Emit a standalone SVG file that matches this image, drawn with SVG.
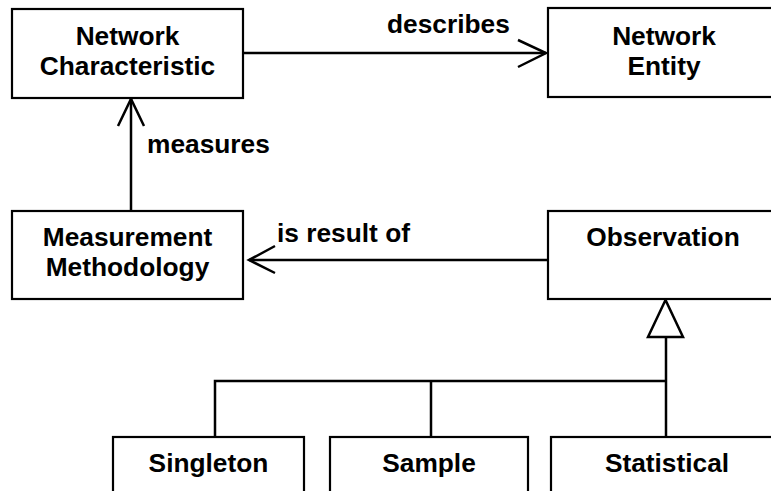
<svg xmlns="http://www.w3.org/2000/svg" width="771" height="491" viewBox="0 0 771 491">
<style>
.box{fill:#fff;stroke:#000;stroke-width:2.2}
.t{font-family:"Liberation Sans",Arial,sans-serif;font-weight:bold;font-size:26.3px;fill:#000;text-anchor:middle}
.l{font-family:"Liberation Sans",Arial,sans-serif;font-weight:bold;font-size:26.3px;fill:#000}
.c{fill:none;stroke:#000;stroke-width:2.5}
</style>
<rect width="771" height="491" fill="#fff"/>
<g id="connectors">
<line class="c" x1="243" y1="53" x2="546" y2="53"/>
<polyline class="c" points="518,40 546,53 518,67"/>
<text class="l" x="387" y="33">describes</text>
<line class="c" x1="131" y1="211" x2="131" y2="99"/>
<polyline class="c" points="118,126 131,99 144,126"/>
<text class="l" x="147" y="153">measures</text>
<line class="c" x1="548" y1="260" x2="249" y2="260"/>
<polyline class="c" points="275,246 249,260 275,273"/>
<text class="l" x="277" y="242">is result of</text>
<polygon points="665.5,300 648,337 683,337" fill="#fff" stroke="#000" stroke-width="2.5"/>
<line class="c" x1="666" y1="337" x2="666" y2="438"/>
<polyline class="c" points="215,438 215,381 666,381"/>
<line class="c" x1="431" y1="381" x2="431" y2="438"/>
</g>
<g id="network-characteristic">
<rect class="box" x="12" y="9" width="231" height="89"/>
<text class="t" x="127.5" y="45">Network</text>
<text class="t" x="127.5" y="75">Characteristic</text>
</g>
<g id="network-entity">
<rect class="box" x="548" y="8" width="240" height="89"/>
<text class="t" x="664" y="45">Network</text>
<text class="t" x="664" y="75">Entity</text>
</g>
<g id="measurement-methodology">
<rect class="box" x="12" y="211" width="231" height="88"/>
<text class="t" x="127.5" y="246">Measurement</text>
<text class="t" x="127.5" y="276">Methodology</text>
</g>
<g id="observation">
<rect class="box" x="548" y="211" width="240" height="88"/>
<text class="t" x="663" y="246">Observation</text>
</g>
<g id="singleton">
<rect class="box" x="113" y="437" width="191" height="80"/>
<text class="t" x="208.5" y="472">Singleton</text>
</g>
<g id="sample">
<rect class="box" x="330" y="437" width="198" height="80"/>
<text class="t" x="429" y="472">Sample</text>
</g>
<g id="statistical">
<rect class="box" x="551" y="437" width="240" height="80"/>
<text class="t" x="667" y="472">Statistical</text>
</g>
</svg>
